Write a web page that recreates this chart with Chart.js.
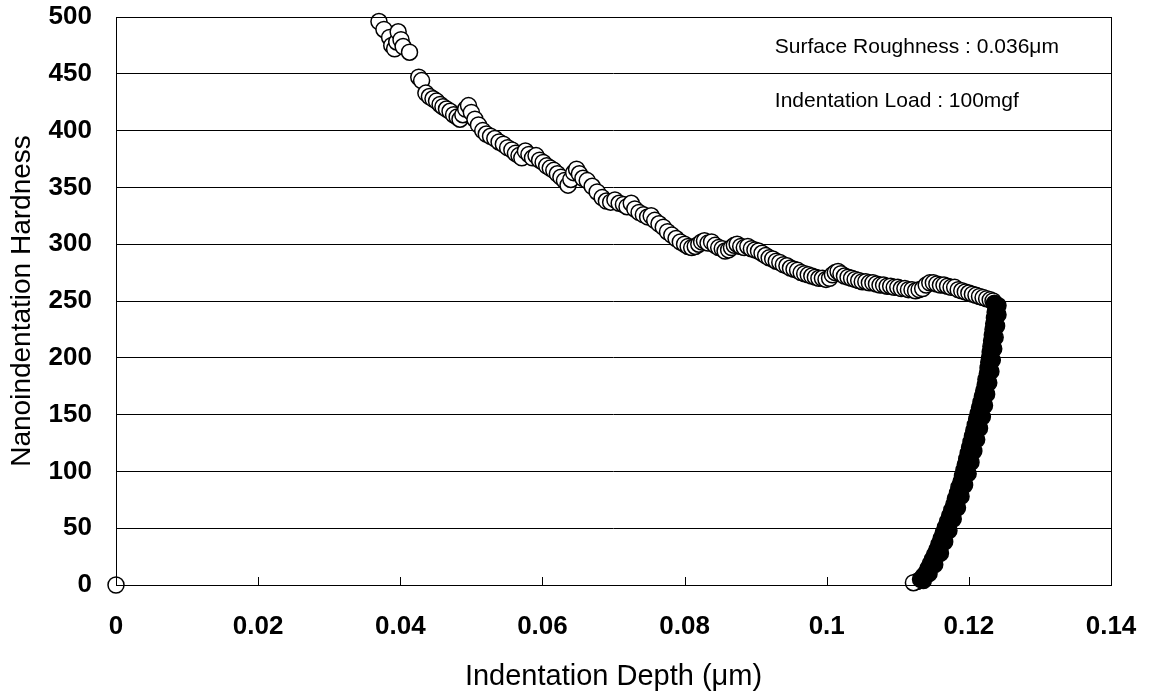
<!DOCTYPE html>
<html>
<head>
<meta charset="utf-8">
<script src="https://cdn.jsdelivr.net/npm/chart.js@4.4.1/dist/chart.umd.min.js"></script>
<style>
    html, body { margin: 0; padding: 0; background: #fff; }
    #wrap { width: 1152px; height: 695px; }
</style>
</head>
<body>
<div id="wrap"><canvas id="chart"></canvas></div>
<script>
// Data
// upper branch (hardness falls from 500 down to ~250 as depth grows)
const depthUpper = [
    0.0370, 0.0377, 0.0385, 0.0388, 0.0392, 0.0395, 0.0397, 0.0401, 0.0404, 0.0413,
    0.0426, 0.0430, 0.0436, 0.0441, 0.0446, 0.0451, 0.0456, 0.0460, 0.0465, 0.0470,
    0.0475, 0.0480, 0.0484, 0.0488, 0.0492, 0.0496, 0.0500, 0.0505, 0.0510, 0.0516,
    0.0521, 0.0527, 0.0533, 0.0539, 0.0545, 0.0551, 0.0557, 0.0562, 0.0567, 0.0571,
    0.0576, 0.0581, 0.0586, 0.0591, 0.0596, 0.0601, 0.0606, 0.0611, 0.0616, 0.0621,
    0.0626, 0.0631, 0.0636, 0.0640, 0.0644, 0.0648, 0.0652, 0.0657, 0.0663, 0.0670,
    0.0677, 0.0684, 0.0690, 0.0696, 0.0702, 0.0708, 0.0714, 0.0719, 0.0725, 0.0730,
    0.0736, 0.0742, 0.0748, 0.0753, 0.0758, 0.0764, 0.0770, 0.0776, 0.0782, 0.0788,
    0.0794, 0.0800, 0.0805, 0.0810, 0.0815, 0.0820, 0.0824, 0.0828, 0.0833, 0.0838,
    0.0843, 0.0848, 0.0853, 0.0857, 0.0862, 0.0866, 0.0870, 0.0874, 0.0879, 0.0884,
    0.0889, 0.0894, 0.0899, 0.0904, 0.0909, 0.0914, 0.0919, 0.0924, 0.0929, 0.0934,
    0.0939, 0.0944, 0.0949, 0.0954, 0.0959, 0.0964, 0.0969, 0.0974, 0.0979, 0.0984,
    0.0989, 0.0994, 0.0999, 0.1004, 0.1008, 0.1012, 0.1016, 0.1020, 0.1025, 0.1030,
    0.1035, 0.1040, 0.1045, 0.1050, 0.1055, 0.1060, 0.1065, 0.1070, 0.1075, 0.1080,
    0.1085, 0.1090, 0.1095, 0.1100, 0.1105, 0.1110, 0.1115, 0.1120, 0.1125, 0.1130,
    0.1135, 0.1140, 0.1145, 0.1150, 0.1155, 0.1160, 0.1165, 0.1170, 0.1175, 0.1180,
    0.1185, 0.1190, 0.1195, 0.1200, 0.1205, 0.1210, 0.1215, 0.1220, 0.1225, 0.1230,
    0.1234
];
const hardUpper = [
    496, 489, 482, 475, 472, 478, 487, 480, 474, 469,
    447, 444, 433, 430, 428, 426, 423, 421, 419, 417,
    414, 412, 410, 414, 419, 422, 416, 410, 405, 400,
    397, 395, 393, 390, 388, 385, 383, 380, 378, 376,
    382, 379, 376, 378, 374, 372, 369, 367, 365, 362,
    359, 356, 352, 357, 363, 366, 362, 358, 356, 351,
    346, 341, 338, 337, 339, 336, 335, 333, 336, 331,
    328, 326, 324, 325, 321, 318, 315, 311, 308, 305,
    302, 300, 298, 297, 298, 300, 302, 303, 301, 302,
    299, 297, 296, 294, 295, 297, 299, 300, 298, 297,
    298, 296, 295, 294, 292, 290, 288, 287, 285, 284,
    282, 281, 279, 278, 277, 275, 274, 273, 272, 271,
    270, 270, 269, 270, 273, 275, 276, 274, 272, 271,
    270, 269, 268, 267, 267, 266, 266, 265, 264, 264,
    263, 263, 262, 262, 261, 261, 260, 260, 259, 260,
    261, 264, 266, 266, 265, 264, 264, 263, 262, 262,
    260, 259, 258, 257, 256, 255, 254, 253, 252, 251,
    250
];

// steep branch near 0.12 um (hardness 0 to ~250), two interleaved columns
const depthSteep = [
    0.1236, 0.1238, 0.1237, 0.1236, 0.1235, 0.1234, 0.1233, 0.1232, 0.1231, 0.1230,
    0.1229, 0.1228, 0.1227, 0.1226, 0.1224, 0.1223, 0.1221, 0.1219, 0.1217, 0.1215,
    0.1213, 0.1211, 0.1209, 0.1207, 0.1205, 0.1203, 0.1201, 0.1199, 0.1197, 0.1195,
    0.1193, 0.1191, 0.1189, 0.1186, 0.1184, 0.1181, 0.1179, 0.1176, 0.1173, 0.1170,
    0.1167, 0.1164, 0.1161, 0.1158, 0.1155, 0.1152, 0.1149, 0.1146, 0.1143, 0.1140,
    0.1136, 0.1132,
    0.1241, 0.1241, 0.1239, 0.1237, 0.1235, 0.1233, 0.1231, 0.1228, 0.1225, 0.1222,
    0.1219, 0.1215, 0.1211, 0.1207, 0.1203, 0.1199, 0.1194, 0.1189, 0.1184, 0.1178,
    0.1172, 0.1166, 0.1160, 0.1152, 0.1144, 0.1136
];
const hardSteep = [
    248, 244, 240, 235, 230, 225, 220, 215, 210, 205,
    200, 196, 191, 186, 181, 176, 171, 166, 161, 156,
    151, 146, 141, 136, 131, 126, 121, 116, 111, 106,
    101, 96, 91, 86, 81, 76, 71, 66, 61, 56,
    51, 46, 41, 36, 31, 27, 23, 19, 15, 11,
    8, 5,
    246, 238, 228, 218, 208, 198, 188, 178, 168, 158,
    148, 138, 128, 118, 108, 98, 88, 78, 68, 58,
    48, 38, 28, 18, 10, 4
];

// lowest points of the steep branch (drawn on top)
const depthBottom = [0.1127, 0.1122];
const hardBottom = [3, 2];

// origin point
const depthOrigin = [0];
const hardOrigin = [0];

// axis ticks
const xTicks = [0, 0.02, 0.04, 0.06, 0.08, 0.1, 0.12, 0.14];
const yTicks = [0, 50, 100, 150, 200, 250, 300, 350, 400, 450, 500];

// notes in the upper right
const notes = ['Surface Roughness : 0.036\u03bcm', 'Indentation Load : 100mgf'];

const FONT = '"Liberation Sans", Arial, sans-serif';

function toPoints(xs, ys) {
    return xs.map((x, i) => ({ x: x, y: ys[i] }));
}

function markerSet(label, xs, ys, fill) {
    return {
        label: label,
        data: toPoints(xs, ys),
        pointRadius: 8,
        pointBorderWidth: 1.5,
        pointBorderColor: '#000',
        pointBackgroundColor: fill,
        showLine: false,
        clip: false
    };
}

// frame, inward x ticks and the two notes
const framePlugin = {
    id: 'frame',
    afterDraw(chart) {
        const ctx = chart.ctx;
        const area = chart.chartArea;
        const xs = chart.scales.x;
        const ys = chart.scales.y;
        ctx.save();
        ctx.strokeStyle = '#000';
        ctx.lineWidth = 1;
        ctx.strokeRect(area.left + 0.5, area.top + 0.5, area.right - area.left, area.bottom - area.top);
        xTicks.forEach(v => {
            const px = Math.round(xs.getPixelForValue(v)) + 0.5;
            ctx.beginPath();
            ctx.moveTo(px, area.bottom);
            ctx.lineTo(px, area.bottom - 8);
            ctx.stroke();
        });
        ctx.fillStyle = '#000';
        ctx.font = '21px ' + FONT;
        ctx.textBaseline = 'middle';
        ctx.textAlign = 'left';
        ctx.fillText(notes[0], xs.getPixelForValue(0.0927), ys.getPixelForValue(473));
        ctx.fillText(notes[1], xs.getPixelForValue(0.0927), ys.getPixelForValue(426));
        ctx.restore();
    }
};

const ctx = document.getElementById('chart').getContext('2d');
const chart = new Chart(ctx, {
    type: 'scatter',
    data: {
        datasets: [
            markerSet('steep', depthSteep, hardSteep, '#000'),
            markerSet('bottom', depthBottom, hardBottom, '#fff'),
            markerSet('upper', depthUpper, hardUpper, '#fff'),
            markerSet('origin', depthOrigin, hardOrigin, '#fff')
        ]
    },
    options: {
        responsive: true,
        maintainAspectRatio: false,
        animation: false,
        layout: {
            padding: { top: 17, right: 41, left: 0, bottom: 0 }
        },
        plugins: {
            legend: { display: false },
            tooltip: { enabled: false }
        },
        scales: {
            x: {
                type: 'linear',
                min: 0,
                max: 0.14,
                afterBuildTicks: (scale) => {
                    scale.ticks = xTicks.map(v => ({ value: v }));
                },
                afterFit: (scale) => {
                    scale.height = 110;
                    scale.paddingLeft = 0;
                    scale.paddingRight = 0;
                },
                grid: { display: false, drawTicks: false },
                border: { display: false },
                ticks: {
                    color: '#000',
                    padding: 26,
                    maxRotation: 0,
                    font: { family: FONT, size: 26, weight: 'bold' },
                    callback: (v) => String(v)
                },
                title: {
                    display: true,
                    text: 'Indentation Depth (\u03bcm)',
                    color: '#000',
                    font: { family: FONT, size: 29 },
                    padding: { top: 0, bottom: 1 }
                }
            },
            y: {
                type: 'linear',
                min: 0,
                max: 500,
                afterBuildTicks: (scale) => {
                    scale.ticks = yTicks.map(v => ({ value: v }));
                },
                afterFit: (scale) => {
                    scale.width = 116;
                    scale.paddingTop = 0;
                    scale.paddingBottom = 0;
                },
                grid: { color: '#000', lineWidth: 1, drawTicks: false },
                border: { display: false },
                ticks: {
                    color: '#000',
                    padding: 24,
                    font: { family: FONT, size: 26, weight: 'bold' }
                },
                title: {
                    display: true,
                    text: 'Nanoindentation Hardness',
                    color: '#000',
                    font: { family: FONT, size: 28 },
                    padding: { top: 5, bottom: 0 }
                }
            }
        }
    },
    plugins: [framePlugin]
});
</script>
</body>
</html>
